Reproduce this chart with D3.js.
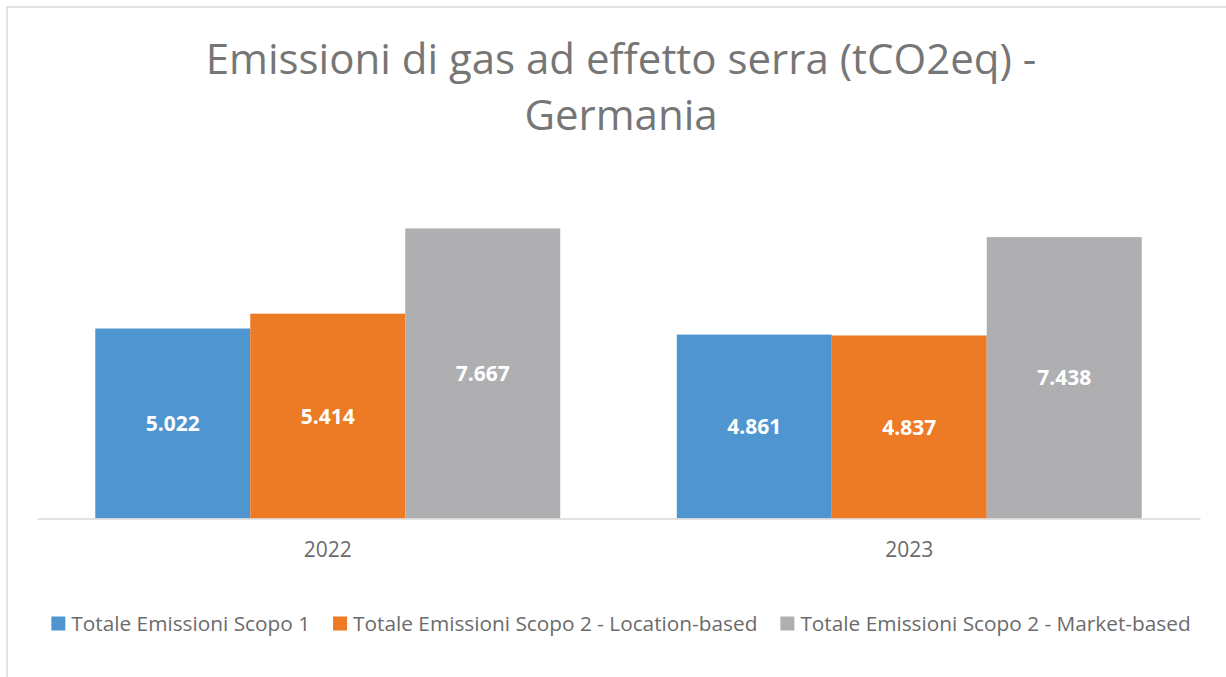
<!DOCTYPE html>
<html>
<head>
<meta charset="utf-8">
<script src="https://cdn.jsdelivr.net/npm/d3@7"></script>
<style>
  body { margin: 0; background: #fff; }
  svg { display: block; font-family: "Open Sans", "Noto Sans", sans-serif; }
</style>
</head>
<body>
<div id="chart"></div>
<script>
// data (tCO2eq)
const years = ["2022", "2023"];
const seriesNames = [
    "Totale Emissioni Scopo 1",
    "Totale Emissioni Scopo 2 - Location-based",
    "Totale Emissioni Scopo 2 - Market-based"
];
const seriesColors = ["#4f96d1", "#ed7b25", "#afafb2"];
const scope1 = [5022, 4861];
const scope2Location = [5414, 4837];
const scope2Market = [7667, 7438];
const seriesValues = [scope1, scope2Location, scope2Market];

const width = 1226, height = 677;
const svg = d3.select("#chart").append("svg")
    .attr("width", width)
    .attr("height", height);

// chart frame (right/bottom edges are off the picture)
svg.append("path")
    .attr("d", `M7,${height + 2}V7H${width + 2}`)
    .attr("fill", "none")
    .attr("stroke", "#d9d9d9")
    .attr("stroke-width", 1.5);

// title
const title = svg.append("text")
    .attr("text-anchor", "middle")
    .attr("fill", "#767676")
    .attr("font-size", 42);
title.append("tspan").attr("x", 621).attr("y", 73.5).text("Emissioni di gas ad effetto serra (tCO2eq) -");
title.append("tspan").attr("x", 621).attr("y", 130).text("Germania");

const x = d3.scaleBand().domain(years).range([37, 1200]).padding(0);
const xInner = d3.scaleBand().domain(d3.range(seriesNames.length))
    .range([0, x.bandwidth()]).paddingInner(0).paddingOuter(0.376);
const y = d3.scaleLinear().domain([0, 9000]).range([518.5, 178]);

const fmt = d3.formatLocale({ decimal: ",", thousands: ".", grouping: [3], currency: ["", "€"] }).format(",d");

const rows = [];
years.forEach((yr, i) => seriesValues.forEach((vals, s) => rows.push({ yr, s, v: vals[i] })));

const bars = svg.append("g").selectAll("g").data(rows).join("g");
bars.append("rect")
    .attr("x", d => x(d.yr) + xInner(d.s))
    .attr("width", xInner.bandwidth())
    .attr("y", d => y(d.v))
    .attr("height", d => y(0) - y(d.v))
    .attr("fill", d => seriesColors[d.s]);
bars.append("text")
    .attr("x", d => x(d.yr) + xInner(d.s) + xInner.bandwidth() / 2)
    .attr("y", d => (y(d.v) + y(0)) / 2)
    .attr("dy", "0.36em")
    .attr("text-anchor", "middle")
    .attr("fill", "#fff")
    .attr("font-weight", "bold")
    .attr("font-size", 21)
    .text(d => fmt(d.v));

// x axis
const xAxis = svg.append("g")
    .attr("transform", `translate(0,${y(0)})`)
    .call(d3.axisBottom(x).tickSize(0).tickPadding(24));
xAxis.select(".domain").attr("stroke", "#d9d9d9").attr("stroke-width", 1.5);
xAxis.selectAll("text")
    .attr("font-size", 21)
    .attr("fill", "#6b6b6b")
    .attr("font-family", "\"Open Sans\", sans-serif");

// legend, centred under the chart
const legend = svg.append("g");
const items = legend.selectAll("g").data(seriesNames).join("g");
items.append("rect")
    .attr("width", 14).attr("height", 14)
    .attr("y", -14)
    .attr("fill", (d, i) => seriesColors[i]);
items.append("text")
    .attr("x", 20)
    .attr("font-size", 20.8)
    .attr("fill", "#6b6b6b")
    .text(d => d);
let cursor = 0;
items.each(function () {
    d3.select(this).attr("transform", `translate(${cursor},0)`);
    cursor += 20 + d3.select(this).select("text").node().getComputedTextLength() + 23;
});
const legendWidth = cursor - 23;
legend.attr("transform", `translate(${621 - legendWidth / 2},630.5)`);
</script>
</body>
</html>
